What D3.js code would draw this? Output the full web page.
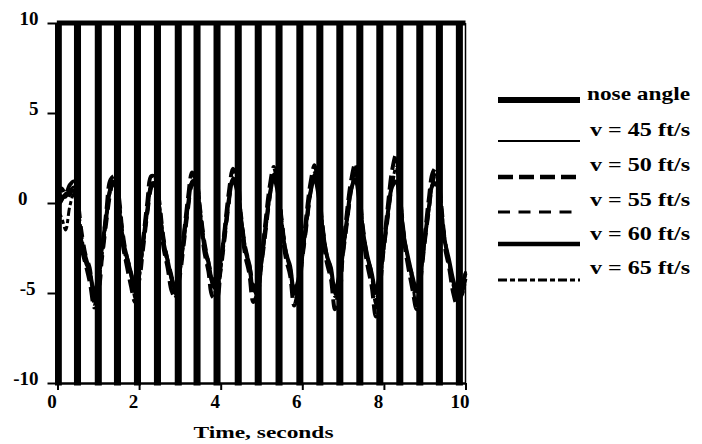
<!DOCTYPE html>
<html>
<head>
<meta charset="utf-8">
<script src="https://cdn.jsdelivr.net/npm/d3@7"></script>
<style>
  html, body { margin: 0; padding: 0; background: #fff; }
  svg { display: block; font-family: "Times New Roman", "Liberation Serif", Tinos, Times, serif; }
</style>
</head>
<body>
<svg id="chart" width="702" height="444"></svg>
<script>
// ---- data -------------------------------------------------------------
// pitch response sampled every 0.1 s from 0 to 10 s, degrees
const sampleStep = 0.1;

const v45 = [
  0.0, 0.4, 0.3, 0.7, 0.9, -0.6, -2.2, -3.2, -4.0, -5.4,
  -4.0, -2.4, -0.6, 0.95, 1.25, -0.1, -2.0, -3.2, -4.1, -5.0,
  -3.8, -2.1, -0.3, 1.1, 1.1, -0.4, -2.2, -3.3, -4.4, -4.9,
  -3.55, -1.9, 0.0, 1.25, 0.95, -0.7, -2.4, -3.4, -4.6, -4.8,
  -3.3, -1.6, 0.25, 1.4, 0.8, -1.0, -2.6, -3.5, -4.9, -4.65,
  -3.1, -1.3, 0.55, 1.55, 0.65, -1.3, -2.85, -3.6, -5.1, -4.45,
  -2.8, -1.0, 0.7, 1.5, 0.4, -1.55, -3.0, -3.75, -5.1, -4.2,
  -2.55, -0.75, 0.85, 1.35, 0.1, -1.8, -3.1, -4.0, -5.05, -3.95,
  -2.3, -0.5, 1.0, 1.2, -0.2, -2.05, -3.25, -4.25, -4.95, -3.7,
  -2.0, -0.2, 1.15, 1.05, -0.5, -2.3, -3.3, -4.5, -5.2, -4.8,
  -4.0
];
const v50 = [
  0.3, 0.8, 0.5, 1.0, 1.2, -0.9, -2.6, -3.5, -4.5, -5.8,
  -4.3, -2.6, -0.4, 1.3, 1.5, 0.0, -2.3, -3.5, -4.6, -5.5,
  -4.0, -2.0, 0.0, 1.5, 1.4, -0.5, -2.5, -3.6, -4.9, -5.3,
  -3.7, -1.7, 0.3, 1.7, 1.2, -0.8, -2.7, -3.8, -5.2, -5.3,
  -3.4, -1.4, 0.6, 1.9, 1.1, -1.1, -2.9, -3.9, -5.5, -5.0,
  -3.2, -1.0, 0.9, 2.0, 0.9, -1.5, -3.1, -4.0, -5.7, -4.8,
  -2.9, -0.7, 1.1, 2.1, 0.7, -1.7, -3.3, -4.2, -5.9, -4.5,
  -2.6, -0.4, 1.3, 2.2, 0.4, -2.0, -3.5, -4.6, -6.3, -4.3,
  -2.3, -0.1, 1.8, 2.7, 0.2, -2.2, -3.6, -4.8, -5.9, -4.0,
  -1.9, 0.2, 1.7, 2.0, -0.2, -2.5, -3.6, -5.0, -5.7, -5.0,
  -4.2
];
const v55 = [
  -0.2, 0.1, 0.6, 0.4, 1.0, 0.2, -1.6, -2.9, -3.6, -4.9,
  -4.8, -3.1, -1.2, 0.5, 1.5, 0.6, -1.5, -2.9, -3.7, -4.8,
  -4.4, -2.7, -0.8, 0.8, 1.5, 0.2, -1.8, -3.1, -4.0, -5.1,
  -4.2, -2.4, -0.5, 1.0, 1.4, -0.2, -2.0, -3.2, -4.2, -5.2,
  -3.9, -2.1, -0.2, 1.2, 1.3, -0.5, -2.3, -3.3, -4.5, -5.3,
  -3.6, -1.8, 0.1, 1.4, 1.1, -0.8, -2.6, -3.5, -4.8, -5.2,
  -3.3, -1.5, 0.4, 1.6, 0.9, -1.1, -2.8, -3.6, -5.0, -5.0,
  -3.0, -1.2, 0.6, 1.7, 0.7, -1.4, -3.0, -3.8, -5.3, -4.7,
  -2.7, -0.9, 0.9, 1.9, 0.5, -1.7, -3.2, -4.0, -5.4, -4.4,
  -2.4, -0.6, 1.1, 1.9, 0.3, -2.0, -3.3, -4.3, -5.0, -5.1,
  -3.8
];
const v60 = [
  0.1, 0.2, 0.5, 0.6, 0.7, -0.8, -2.3, -3.1, -3.9, -5.1,
  -3.9, -2.3, -0.7, 0.8, 1.1, -0.2, -2.0, -3.0, -3.9, -4.8,
  -3.7, -2.1, -0.4, 0.9, 1.0, -0.5, -2.2, -3.2, -4.2, -4.7,
  -3.4, -1.8, -0.1, 1.1, 0.9, -0.8, -2.4, -3.3, -4.4, -4.6,
  -3.2, -1.6, 0.2, 1.3, 0.7, -1.0, -2.6, -3.4, -4.7, -4.5,
  -3.0, -1.3, 0.4, 1.4, 0.6, -1.3, -2.8, -3.5, -4.9, -4.3,
  -2.8, -1.0, 0.6, 1.4, 0.4, -1.5, -2.9, -3.6, -4.9, -4.1,
  -2.5, -0.8, 0.8, 1.3, 0.1, -1.8, -3.0, -3.9, -4.9, -3.9,
  -2.3, -0.5, 0.9, 1.2, -0.2, -2.0, -3.1, -4.1, -4.8, -3.7,
  -2.0, -0.3, 1.0, 1.0, -0.5, -2.2, -3.2, -4.3, -5.0, -4.6,
  -3.9
];
const v65 = [
  -0.4, -0.8, -1.5, -0.2, 0.5, -0.3, -1.9, -3.4, -3.8, -5.6,
  -4.5, -2.8, -0.9, 0.7, 1.3, 0.3, -1.7, -3.4, -3.8, -5.3,
  -4.2, -2.4, -0.6, 1.0, 1.3, -0.1, -2.0, -3.5, -4.1, -5.2,
  -3.9, -2.1, -0.3, 1.2, 1.2, -0.4, -2.2, -3.6, -4.3, -5.2,
  -3.7, -1.9, 0.0, 1.4, 1.0, -0.7, -2.4, -3.7, -4.6, -5.1,
  -3.4, -1.6, 0.3, 1.6, 0.8, -1.0, -2.7, -3.8, -4.9, -4.9,
  -3.1, -1.3, 0.5, 1.7, 0.6, -1.3, -2.9, -3.9, -5.2, -4.7,
  -2.8, -1.0, 0.7, 1.8, 0.4, -1.6, -3.1, -4.1, -5.6, -4.5,
  -2.5, -0.7, 1.0, 2.0, 0.2, -1.9, -3.3, -4.4, -5.8, -4.2,
  -2.2, -0.4, 1.2, 1.8, 0.0, -2.1, -3.4, -4.6, -5.3, -5.2,
  -4.3
];

// nose angle command: held at +10 deg, switched briefly to -10 deg at these times (s)
const noseSwitchTimes = [
  0.02, 0.49, 1.0, 1.47, 1.96, 2.45, 2.96, 3.42, 3.91, 4.43, 4.92,
  5.43, 5.94, 6.43, 6.92, 7.41, 7.90, 8.39, 8.88, 9.36, 9.85
];
const noseHigh = 10;
const noseLow = -10;
const noseDipLength = 0.05;

const xTicks = [0, 2, 4, 6, 8, 10];
const yTicks = [-10, -5, 0, 5, 10];
const xTitle = "Time, seconds";
const legendLabels = ["nose angle", "v = 45 ft/s", "v = 50 ft/s", "v = 55 ft/s", "v = 60 ft/s", "v = 65 ft/s"];

// ---- layout -----------------------------------------------------------
const svg = d3.select("#chart");
svg.append("rect").attr("width", 702).attr("height", 444).attr("fill", "#fff");

const x = d3.scaleLinear().domain([0, 10]).range([57.5, 465.5]);
const y = d3.scaleLinear().domain([-10, 10]).range([383, 23]);

// nose angle path built from the switch times
const nosePoints = [[0, noseHigh]];
noseSwitchTimes.forEach(t => {
  const a = Math.max(0, t - noseDipLength / 2);
  const b = t + noseDipLength / 2;
  nosePoints.push([a, noseHigh], [a, noseLow], [b, noseLow], [b, noseHigh]);
});
nosePoints.push([10, noseHigh]);

const straight = d3.line().x(d => x(d[0])).y(d => y(d[1]));
const smooth = d3.line().x(d => x(d[0])).y(d => y(d[1])).curve(d3.curveCatmullRom.alpha(0.5));

const seriesStyle = [
  { values: v45, width: 2.5, dash: null },
  { values: v50, width: 4,   dash: "14,6" },
  { values: v55, width: 3,   dash: "11,8" },
  { values: v60, width: 4,   dash: null },
  { values: v65, width: 3,   dash: "8,3,4,3" }
];

// axes
const yAxis = d3.axisLeft(y).tickValues(yTicks).tickSize(10).tickSizeOuter(0).tickPadding(9)
  .tickFormat(d => String(d));
const gy = svg.append("g").attr("transform", `translate(${x(0)},0)`).call(yAxis);
gy.attr("font-family", null);
gy.select(".domain").attr("stroke", "#000").attr("stroke-width", 2);
gy.selectAll(".tick line").attr("stroke", "#000").attr("stroke-width", 2);
gy.selectAll(".tick text")
  .attr("fill", "#000").attr("font-size", 19).attr("font-weight", "bold")
  .attr("dy", "0.1em");
gy.selectAll(".tick text").filter(d => d === 0).attr("dx", -11);
gy.selectAll(".tick text").filter(d => d === -5).attr("dx", -3);

const xAxis = d3.axisBottom(x).tickValues(xTicks).tickSize(7).tickSizeOuter(0).tickPadding(5)
  .tickFormat(d => String(d));
const gx = svg.append("g").attr("transform", `translate(0,${y(-10)})`).call(xAxis);
gx.attr("font-family", null);
gx.select(".domain").attr("stroke", "#000").attr("stroke-width", 2.5);
gx.selectAll(".tick line").attr("stroke", "#000").attr("stroke-width", 2);
gx.selectAll(".tick text")
  .attr("fill", "#000").attr("font-size", 19).attr("font-weight", "bold")
  .attr("dx", -6);

svg.append("text")
  .attr("x", (x(0) + x(10)) / 2 + 2).attr("y", 438)
  .attr("text-anchor", "middle")
  .attr("font-size", 17).attr("font-weight", "bold")
  .attr("textLength", 140).attr("lengthAdjust", "spacingAndGlyphs")
  .text(xTitle);

// right edge of the plotting window
svg.append("line")
  .attr("x1", x(10)).attr("x2", x(10)).attr("y1", y(10)).attr("y2", y(-10))
  .attr("stroke", "#000").attr("stroke-width", 1.5);

// nose angle trace
svg.append("path")
  .attr("d", straight(nosePoints))
  .attr("fill", "none").attr("stroke", "#000").attr("stroke-width", 5)
  .attr("stroke-linejoin", "miter");

// velocity traces
seriesStyle.forEach(s => {
  const pts = s.values.map((v, i) => [Math.round(i * sampleStep * 10) / 10, v]);
  svg.append("path")
    .attr("d", smooth(pts))
    .attr("fill", "none").attr("stroke", "#000")
    .attr("stroke-width", s.width)
    .attr("stroke-dasharray", s.dash)
    .attr("stroke-linejoin", "round");
});

// legend
const legendStyle = [
  { width: 6,   dash: null },
  { width: 2,   dash: null },
  { width: 4.5, dash: "15,6" },
  { width: 3,   dash: "12,8.5" },
  { width: 4.5, dash: null },
  { width: 3,   dash: "9,3,5,3" }
];
const legendTextY = [93, 129, 164, 199, 233, 267];
const legendLineY = [100, 141, 177, 212, 244, 280];
const lg = svg.append("g");
legendLabels.forEach((lab, i) => {
  lg.append("line")
    .attr("x1", 498).attr("x2", 580)
    .attr("y1", legendLineY[i]).attr("y2", legendLineY[i])
    .attr("stroke", "#000").attr("stroke-width", legendStyle[i].width)
    .attr("stroke-dasharray", legendStyle[i].dash);
  lg.append("text")
    .attr("x", i === 0 ? 587 : 590).attr("y", legendTextY[i])
    .attr("dy", "0.35em")
    .attr("font-size", 19).attr("font-weight", "bold")
    .attr("textLength", i === 0 ? 103 : 100).attr("lengthAdjust", "spacingAndGlyphs")
    .text(lab);
});
</script>
</body>
</html>
